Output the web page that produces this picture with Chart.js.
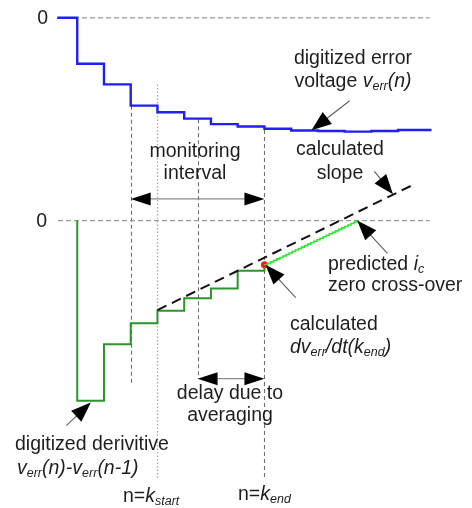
<!DOCTYPE html>
<html>
<head>
<meta charset="utf-8">
<script src="https://cdn.jsdelivr.net/npm/chart.js@4/dist/chart.umd.min.js"></script>
<style>
  html, body { margin: 0; padding: 0; background: #fff; }
  #wrap { width: 472px; height: 508px; }
</style>
</head>
<body>
<div id="wrap"><canvas id="c" width="472" height="508"></canvas></div>
<script>
// Sample index n and the digitized error voltage v_err(n) (arbitrary units)
const sampleN = [0.25, 1, 2, 3, 4, 5, 6, 7, 8, 9, 10, 11, 12, 13, 14.25];
const errorVoltage = [0, -4.67, -6.77, -8.93, -9.6, -10.25, -10.8, -11.05, -11.27, -11.45, -11.5, -11.57, -11.5, -11.4, -11.4];

// Digitized derivative v_err(n) - v_err(n-1)
const derivN = [1, 1, 2, 3, 4, 5, 6, 7, 8];
const derivative = [0, -18.3, -12.57, -10.43, -9.17, -7.9, -6.9, -5.1, -4.5];

// Slope fitted over the monitoring interval
const slopeN = [4, 13.59];
const slopeVal = [-9.1, 3.67];

// Predicted path from dv_err/dt(k_end) to the i_c zero cross-over
const predictN = [8, 11.47];
const predictVal = [-4.5, 0];

// Extent of the zero reference lines
const zeroN = [0.28, 14.18];

// Key sample instants: start of monitoring, k_start, averaging delay, k_end
const kMarks = [3, 4, 5.5, 8];
// Vertical guide extents: top end on the voltage axis, bottom end on the derivative axis
const kMarkTop = [-8.93, -6.77, -10.3, -11.4];
const kMarkBottom = [-16.5, -26.3, -16.1, -26.2];

// Interval arrows
const monitorLevel = -18.4;   // on the voltage axis
const delayLevel = -16.07;    // on the derivative axis

const pts = (xs, ys) => xs.map((x, i) => ({ x, y: ys[i] }));

const FONT = '"Liberation Sans", Arial, Helvetica, sans-serif';
const fonts = {
  n: '19.5px ' + FONT,
  i: 'italic 19.5px ' + FONT,
  s: 'italic 12.5px ' + FONT
};
const TEXT = '#1e1e1e';

function rich(ctx, parts, x, y, align) {
  let w = 0;
  for (const p of parts) { ctx.font = fonts[p[1]]; w += ctx.measureText(p[0]).width; }
  let cx = align === 'center' ? x - w / 2 : x;
  ctx.textAlign = 'left';
  ctx.textBaseline = 'middle';
  ctx.fillStyle = TEXT;
  for (const p of parts) {
    ctx.font = fonts[p[1]];
    ctx.fillText(p[0], cx, y + (p[1] === 's' ? 5 : 0));
    cx += ctx.measureText(p[0]).width;
  }
}

function head(ctx, tx, ty, ux, uy, len, hw) {
  const bx = tx - ux * len, by = ty - uy * len;
  ctx.beginPath();
  ctx.moveTo(tx, ty);
  ctx.lineTo(bx - uy * hw, by + ux * hw);
  ctx.lineTo(bx + uy * hw, by - ux * hw);
  ctx.closePath();
  ctx.fillStyle = '#000';
  ctx.fill();
}

function arrow(ctx, x0, y0, x1, y1) {
  const dx = x1 - x0, dy = y1 - y0, L = Math.hypot(dx, dy);
  const ux = dx / L, uy = dy / L;
  ctx.strokeStyle = '#5e5e5e';
  ctx.lineWidth = 1.1;
  ctx.setLineDash([]);
  ctx.beginPath();
  ctx.moveTo(x0, y0);
  ctx.lineTo(x1 - ux * 14, y1 - uy * 14);
  ctx.stroke();
  head(ctx, x1, y1, ux, uy, 20, 7.5);
}

function doubleArrow(ctx, x0, x1, y) {
  ctx.strokeStyle = '#8a8a8a';
  ctx.lineWidth = 1.3;
  ctx.setLineDash([]);
  ctx.beginPath();
  ctx.moveTo(x0 + 12, y);
  ctx.lineTo(x1 - 12, y);
  ctx.stroke();
  head(ctx, x0, y, -1, 0, 20, 6.5);
  head(ctx, x1, y, 1, 0, 20, 6.5);
}

const diagram = {
  id: 'diagram',
  beforeDatasetsDraw(chart) {
    const { ctx, scales } = chart;
    const x = scales.x, yV = scales.yV, yD = scales.yD;
    ctx.save();
    // vertical guides at the key sample instants
    kMarks.forEach((k, i) => {
      const px = Math.round(x.getPixelForValue(k)) + 0.5;
      const dotted = (k === 4);
      ctx.strokeStyle = dotted ? '#a8a8a8' : '#6e6e6e';
      ctx.lineWidth = dotted ? 1.2 : 1.1;
      ctx.setLineDash(dotted ? [1.5, 2] : [4, 3]);
      ctx.beginPath();
      ctx.moveTo(px, yV.getPixelForValue(kMarkTop[i]));
      ctx.lineTo(px, yD.getPixelForValue(kMarkBottom[i]));
      ctx.stroke();
    });
    ctx.restore();
  },
  afterDatasetsDraw(chart) {
    const { ctx, scales } = chart;
    const x = scales.x, yV = scales.yV, yD = scales.yD;
    const X = v => x.getPixelForValue(v);
    ctx.save();

    // predicted staircase toward the zero cross-over
    const p0x = X(predictN[0]), p0y = yD.getPixelForValue(predictVal[0]);
    const p1x = X(predictN[1]), p1y = yD.getPixelForValue(predictVal[1]);
    const n = Math.round(Math.hypot(p1x - p0x, p1y - p0y) / 3.4);
    const sx = (p1x - p0x) / n, sy = (p1y - p0y) / n;
    ctx.strokeStyle = '#2ee52e';
    ctx.lineWidth = 1.6;
    ctx.setLineDash([]);
    ctx.beginPath();
    ctx.moveTo(p0x, p0y);
    let cx = p0x, cy = p0y;
    for (let i = 0; i < n; i++) {
      cx += sx; ctx.lineTo(cx, cy);
      cy += sy; ctx.lineTo(cx, cy);
    }
    ctx.stroke();

    // zero labels
    ctx.font = fonts.n;
    ctx.fillStyle = TEXT;
    ctx.textAlign = 'right';
    ctx.textBaseline = 'middle';
    ctx.fillText('0', 48, yV.getPixelForValue(0) + 1);
    ctx.fillText('0', 47, yD.getPixelForValue(0) + 1);

    // interval arrows
    doubleArrow(ctx, X(kMarks[0]), X(kMarks[3]), yV.getPixelForValue(monitorLevel));
    doubleArrow(ctx, X(kMarks[2]), X(kMarks[3]), yD.getPixelForValue(delayLevel));

    // callout arrows
    arrow(ctx, X(11.19), yV.getPixelForValue(-8.43), X(9.76), yV.getPixelForValue(-11.43));
    arrow(ctx, X(12.11), yD.getPixelForValue(5.0), X(12.81), yD.getPixelForValue(2.67));
    arrow(ctx, X(12.6), yD.getPixelForValue(-3.33), X(predictN[1]), yD.getPixelForValue(predictVal[1]));
    arrow(ctx, X(9.17), yD.getPixelForValue(-7.83), X(predictN[0]) + 1, yD.getPixelForValue(predictVal[0]));
    arrow(ctx, X(0.59), yD.getPixelForValue(-20.83), X(1.51), yD.getPixelForValue(-18.5));

    // text
    rich(ctx, [['digitized error', 'n']], 353, 59, 'center');
    rich(ctx, [['voltage ', 'n'], ['v', 'i'], ['err', 's'], ['(n)', 'i']], 353, 81.5, 'center');
    rich(ctx, [['monitoring', 'n']], 195, 151.5, 'center');
    rich(ctx, [['interval', 'n']], 195, 173.5, 'center');
    rich(ctx, [['calculated', 'n']], 340, 150, 'center');
    rich(ctx, [['slope', 'n']], 340, 173.5, 'center');
    rich(ctx, [['predicted ', 'n'], ['i', 'i'], ['c', 's']], 328, 265, 'left');
    rich(ctx, [['zero cross-over', 'n']], 328, 286, 'left');
    rich(ctx, [['calculated', 'n']], 290, 325, 'left');
    rich(ctx, [['dv', 'i'], ['err', 's'], ['/dt(', 'i'], ['k', 'i'], ['end', 's'], [')', 'i']], 290, 348, 'left');
    rich(ctx, [['delay due to', 'n']], 230, 394, 'center');
    rich(ctx, [['averaging', 'n']], 230, 416, 'center');
    rich(ctx, [['digitized derivitive', 'n']], 15, 445, 'left');
    rich(ctx, [['v', 'i'], ['err', 's'], ['(n)-', 'i'], ['v', 'i'], ['err', 's'], ['(n-1)', 'i']], 17, 469, 'left');
    rich(ctx, [['n=', 'n'], ['k', 'i'], ['start', 's']], 123, 497, 'left');
    rich(ctx, [['n=', 'n'], ['k', 'i'], ['end', 's']], 238, 495, 'left');

    ctx.restore();
  }
};

new Chart(document.getElementById('c'), {
  type: 'line',
  data: {
    datasets: [
      {
        // calculated dv_err/dt at k_end
        data: [{ x: predictN[0], y: predictVal[0] }],
        yAxisID: 'yD', showLine: false,
        pointRadius: 3.5, pointBackgroundColor: '#ff1a1a', pointBorderWidth: 0,
        order: 0
      },
      {
        data: pts(slopeN, slopeVal), yAxisID: 'yD',
        borderColor: '#111', borderWidth: 2, borderDash: [10, 6], order: 1
      },
      {
        data: pts(sampleN, errorVoltage), yAxisID: 'yV', stepped: 'before',
        borderColor: '#1f1ff5', borderWidth: 2.4, order: 2
      },
      {
        data: pts(derivN, derivative), yAxisID: 'yD', stepped: 'before',
        borderColor: '#2a962a', borderWidth: 2, order: 3
      },
      {
        data: pts(zeroN, [0, 0]), yAxisID: 'yV',
        borderColor: '#9a9a9a', borderWidth: 1.2, borderDash: [5, 3], order: 4
      },
      {
        data: pts(zeroN, [0, 0]), yAxisID: 'yD',
        borderColor: '#9a9a9a', borderWidth: 1.2, borderDash: [5, 3], order: 5
      }
    ]
  },
  options: {
    responsive: false,
    animation: false,
    layout: { padding: 0 },
    elements: { point: { radius: 0 }, line: { tension: 0, borderCapStyle: 'butt' } },
    plugins: { legend: { display: false }, tooltip: { enabled: false } },
    scales: {
      x: { type: 'linear', min: -1.739, max: 15.614, display: false },
      yV: { type: 'linear', min: -49.4, max: 1.4, display: false },
      yD: { type: 'linear', min: -28.8, max: 22.0, display: false }
    }
  },
  plugins: [diagram]
});
</script>
</body>
</html>
